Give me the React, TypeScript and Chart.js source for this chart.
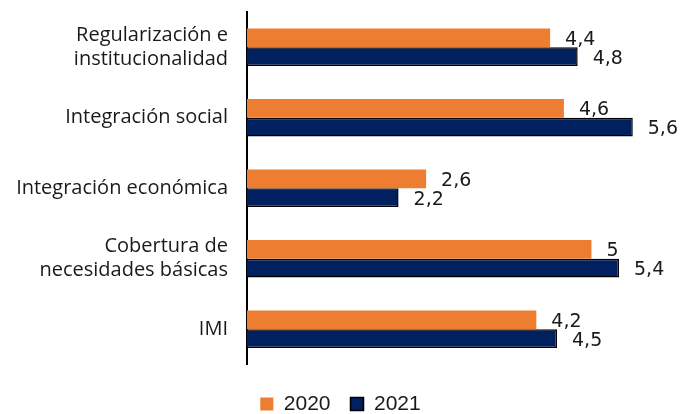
import React, { useEffect, useRef } from "react";
import { Chart, registerables } from "chart.js";

Chart.register(...registerables);

const categories: (string | string[])[] = [
  ["Regularización e", "institucionalidad"],
  "Integración social",
  "Integración económica",
  ["Cobertura de", "necesidades básicas"],
  "IMI",
];
const seriesNames = ["2020", "2021"];
const values2020 = [4.4, 4.6, 2.6, 5, 4.2];
const values2021 = [4.8, 5.6, 2.2, 5.4, 4.5];
const xMin = 0;
const xMax = 6.3;

const colors = {
  orange: "#ED7D31",
  navy: "#002060",
  text: "#1a1a1a",
};

const valueLabelPlugin = {
  id: "valueLabels",
  afterDatasetsDraw(chart: any) {
    const ctx = chart.ctx;
    ctx.save();
    ctx.font = '19px "DejaVu Sans"';
    ctx.fillStyle = colors.text;
    ctx.textAlign = "left";
    ctx.textBaseline = "middle";
    chart.data.datasets.forEach((ds: any, i: number) => {
      const meta = chart.getDatasetMeta(i);
      meta.data.forEach((el: any, j: number) => {
        const v = ds.data[j];
        const txt = String(v).replace(".", ",");
        ctx.fillText(txt, el.x + 15, el.y + 2);
      });
    });
    ctx.restore();
  },
};

export default function App() {
  const canvasRef = useRef<HTMLCanvasElement | null>(null);

  useEffect(() => {
    const canvas = canvasRef.current;
    if (!canvas) return;
    const chart = new Chart(canvas, {
      type: "bar",
      data: {
        labels: categories,
        datasets: [
          {
            label: seriesNames[0],
            data: values2020,
            backgroundColor: colors.orange,
            borderWidth: 0,
            categoryPercentage: 0.53,
            barPercentage: 1,
          },
          {
            label: seriesNames[1],
            data: values2021,
            backgroundColor: colors.navy,
            borderColor: "#000000",
            borderWidth: 1.5,
            categoryPercentage: 0.53,
            barPercentage: 1,
          },
        ],
      },
      options: {
        indexAxis: "y",
        responsive: true,
        maintainAspectRatio: false,
        animation: false,
        layout: {
          padding: { top: 12, right: 12, bottom: -10.5, left: 0 },
        },
        scales: {
          x: {
            min: xMin,
            max: xMax,
            display: true,
            grid: { display: false, drawTicks: false },
            border: { display: false },
            ticks: { display: false },
            afterFit: (s: any) => {
              s.height = 9;
            },
          },
          y: {
            grid: { display: false, drawTicks: false },
            border: { display: true, color: "#000000", width: 2 },
            ticks: {
              color: colors.text,
              padding: 19,
              font: { family: '"Open Sans"', size: 20, lineHeight: 1.2 },
            },
            afterFit: (s: any) => {
              s.width = 247;
              s.paddingTop = 0;
              s.paddingBottom = 0;
            },
          },
        },
        plugins: {
          legend: {
            display: true,
            position: "bottom",
            labels: {
              boxWidth: 13,
              boxHeight: 13,
              padding: 20,
              color: colors.text,
              font: { family: '"Liberation Sans"', size: 21 },
            },
          },
          tooltip: { enabled: false },
        },
      },
      plugins: [valueLabelPlugin],
    });
    return () => chart.destroy();
  }, []);

  return (
    <div style={{ position: "absolute", left: 0, top: 0, width: 693, height: 414 }}>
      <canvas ref={canvasRef} />
    </div>
  );
}
